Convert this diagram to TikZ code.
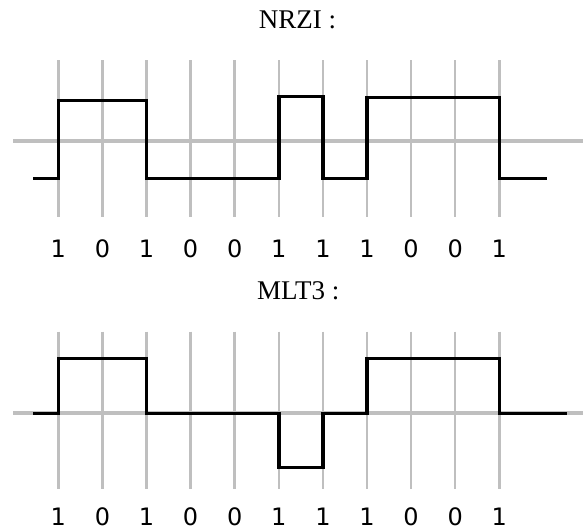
\documentclass[tikz,border=0pt]{standalone}
\usepackage{fontspec}
\setmainfont{Liberation Serif}
\newfontfamily\digitfont{DejaVu Sans}
\begin{document}
\begin{tikzpicture}[x=1pt,y=-1pt,
  gridline/.style={gray!50, line width=2.5pt},
  axisline/.style={gray!50, line width=4pt},
  signal/.style={black, line width=3.5pt, line join=miter},
  heading/.style={font=\fontsize{27}{27}\selectfont, anchor=base, inner sep=0pt},
  bit/.style={font=\digitfont\fontsize{24}{24}\selectfont, anchor=base, inner sep=0pt}]
\useasboundingbox (0,0) rectangle (583,531);

% clock grid and zero axes
\foreach \i in {0,...,10} {
  \draw[gridline] ({58.3+44.1*\i},60) -- ({58.3+44.1*\i},216.7);
  \draw[gridline] ({58.3+44.1*\i},331.7) -- ({58.3+44.1*\i},489);
}
\draw[axisline] (13.3,141) -- (583,141);
\draw[axisline] (13.3,413.3) -- (583,413.3);

% titles
\node[heading] (tnrzi) at (297.5,28.3) {NRZI :};
\node[heading] (tmlt) at (298.3,299.3) {MLT3 :};

% NRZI waveform
\draw[signal] (33.3,178.5) -- (58.3,178.5) -- (58.3,100.7) -- (146.5,100.7)
  -- (146.5,178.5) -- (278.8,178.5) -- (278.8,96.7) -- (322.9,96.7)
  -- (322.9,178.5) -- (367,178.5) -- (367,97.7) -- (499.3,97.7)
  -- (499.3,178.5) -- (546.7,178.5);

% MLT3 waveform
\draw[signal] (33.3,413.3) -- (58.3,413.3) -- (58.3,358.3) -- (146.5,358.3)
  -- (146.5,413.3) -- (278.8,413.3) -- (278.8,467.7) -- (322.9,467.7)
  -- (322.9,413.3) -- (367,413.3) -- (367,358.3) -- (499.3,358.3)
  -- (499.3,413.3) -- (567.3,413.3);

% bit sequences
\foreach \b [count=\i from 0] in {1,0,1,0,0,1,1,1,0,0,1} {
  \node[bit] (na\i) at ({58.3+44.1*\i},257.3) {\b};
  \node[bit] (nb\i) at ({58.3+44.1*\i},525) {\b};
}
\end{tikzpicture}
\end{document}
